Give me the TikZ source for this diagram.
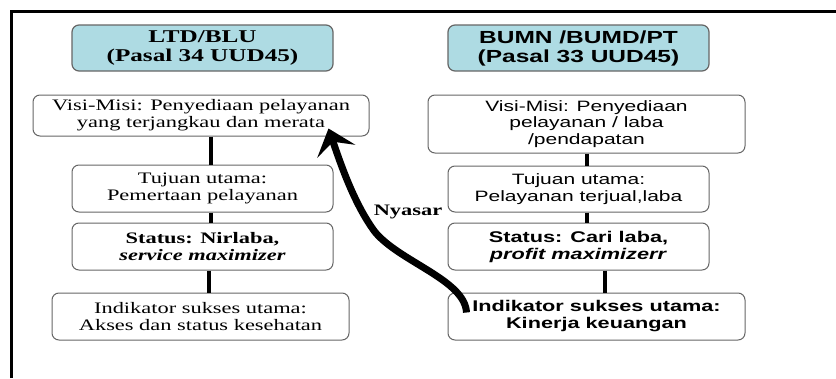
\documentclass[tikz,border=0pt]{standalone}
\usepackage{fontspec}
\setmainfont[FakeStretch=1.4]{Liberation Serif}
\setsansfont[FakeStretch=1.4]{Liberation Sans}
\usetikzlibrary{arrows.meta}

\definecolor{titlefill}{HTML}{AEDBE3}
\definecolor{boxline}{HTML}{666666}

\tikzset{
    titlebox/.style={draw=boxline, line width=1.2pt, rounded corners=7pt, fill=titlefill,
        minimum width=261pt, minimum height=46pt, align=center, inner sep=0pt},
    infobox/.style={draw=boxline, line width=1pt, rounded corners=7pt, fill=white,
        minimum height=47pt, align=center, inner sep=0pt},
    link/.style={line width=4.5pt},
    nyasar/.style={line width=7pt, -{Stealth[length=24pt, width=40pt, inset=10pt]}}
}

\begin{document}
\begin{tikzpicture}[x=1pt, y=-1pt]

    \useasboundingbox (0,0) rectangle (836,378);

    % Frame
    \draw[line width=3pt] (11,378) -- (11,11) -- (836,11);

    % Left column (LTD/BLU)
    \node[titlebox, font=\fontsize{18}{19.5}\selectfont\bfseries] (ltitle) at (202.5,48) {LTD/BLU\\(Pasal 34 UUD45)};
    \node[infobox, minimum width=336pt, minimum height=41pt, font=\fontsize{16}{17}\selectfont] (lvisi) at (201,115.5)
        {Visi-Misi: Penyediaan pelayanan\\yang terjangkau dan merata};
    \node[infobox, minimum width=261pt, font=\fontsize{16}{17}\selectfont] (ltujuan) at (202.5,188.5)
        {Tujuan utama:\\Pemertaan pelayanan};
    \node[infobox, minimum width=261pt, font=\fontsize{16}{17}\selectfont\bfseries] (lstatus) at (202.5,246.5)
        {Status: Nirlaba,\\\textit{service maximizer}};
    \node[infobox, minimum width=297pt, font=\fontsize{16}{17}\selectfont] (lindik) at (200.5,316.5)
        {Indikator sukses utama:\\Akses dan status kesehatan};

    % Right column (BUMN/BUMD/PT)
    \node[titlebox, font=\fontsize{17.5}{19}\selectfont\sffamily\bfseries] (rtitle) at (578.5,48) {BUMN /BUMD/PT\\(Pasal 33 UUD45)};
    \node[infobox, minimum width=317pt, minimum height=58pt, font=\fontsize{15}{16.5}\selectfont\sffamily] (rvisi) at (586.5,124)
        {Visi-Misi: Penyediaan\\pelayanan / laba\\/pendapatan};
    \node[infobox, minimum width=261pt, minimum height=46pt, font=\fontsize{15}{17}\selectfont\sffamily] (rtujuan) at (578.5,189)
        {Tujuan utama:\\Pelayanan terjual,laba};
    \node[infobox, minimum width=261pt, font=\fontsize{15.5}{17}\selectfont\sffamily\bfseries] (rstatus) at (578.5,246.5)
        {Status: Cari laba,\\\textit{profit maximizerr}};
    \node[infobox, minimum width=297pt, font=\fontsize{15.5}{17}\selectfont\sffamily\bfseries] (rindik) at (596.5,316.5)
        {Indikator sukses utama:\\Kinerja keuangan};

    % Vertical links
    \foreach \a/\b in {lvisi/ltujuan, ltujuan/lstatus, lstatus/lindik, rvisi/rtujuan, rtujuan/rstatus, rstatus/rindik} {
        \coordinate (p) at ([xshift=8.5]\b.north);
        \draw[link] (p |- \a.south) -- (p);
    }

    % Nyasar arrow
    \node[font=\fontsize{16}{17}\selectfont\bfseries] (lbl) at (408,212) {Nyasar};
    \coordinate (start) at ([xshift=19, yshift=4]rindik.west);
    \coordinate (tip) at ([xshift=-41, yshift=8]lvisi.south east);
    \draw[nyasar] (start) .. controls (465,280) and (400,262) .. (375,232)
        .. controls (355,205) and (342,168) .. (tip);

\end{tikzpicture}
\end{document}
